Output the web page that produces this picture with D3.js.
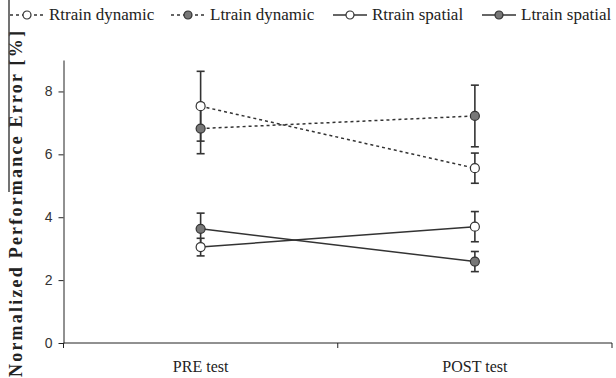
<!DOCTYPE html>
<meta charset="utf-8">
<style>
body { margin: 0; background: #fff; }
svg text { fill: #222; }
.tick text { font-family: "Liberation Sans", Arial, sans-serif; font-size: 14px; fill: #333; }
</style>
<svg width="616" height="378"></svg>
<script src="https://cdnjs.cloudflare.com/ajax/libs/d3/7.8.5/d3.min.js"></script>
<script>

var categories = ["PRE test", "POST test"];
var seriesNames = ["Rtrain dynamic", "Ltrain dynamic", "Rtrain spatial", "Ltrain spatial"];
var rtrainDynamic = [7.53, 5.56], rtrainDynamicErr = [1.11, 0.48];
var ltrainDynamic = [6.82, 7.22], ltrainDynamicErr = [0.80, 0.98];
var rtrainSpatial = [3.05, 3.70], rtrainSpatialErr = [0.28, 0.48];
var ltrainSpatial = [3.63, 2.59], ltrainSpatialErr = [0.50, 0.32];
var yTicks = [0, 2, 4, 6, 8];

var series = [
  {name: seriesNames[0], values: rtrainDynamic, err: rtrainDynamicErr, dash: "3,3", fill: "#fff"},
  {name: seriesNames[1], values: ltrainDynamic, err: ltrainDynamicErr, dash: "3,3", fill: "#777"},
  {name: seriesNames[2], values: rtrainSpatial, err: rtrainSpatialErr, dash: null, fill: "#fff"},
  {name: seriesNames[3], values: ltrainSpatial, err: ltrainSpatialErr, dash: null, fill: "#777"}
];

var serif = "'Liberation Serif', 'Times New Roman', serif";

var svg = d3.select("svg"),
    margin = {top: 60, right: 4, bottom: 35, left: 63.5},
    width = +svg.attr("width") - margin.left - margin.right,
    height = +svg.attr("height") - margin.top - margin.bottom;

var g = svg.append("g")
    .attr("transform", "translate(" + margin.left + "," + margin.top + ")");

var x = d3.scaleBand().domain(categories).range([0, width]);
var y = d3.scaleLinear().domain([0, 9]).range([height, 0]);

function cx(i) { return x(categories[i]) + x.bandwidth() / 2; }

// x axis, ticks sit on the band edges
var xAxis = g.append("g")
    .attr("transform", "translate(0," + height + ")");
xAxis.append("line")
    .attr("x1", 0).attr("x2", width)
    .attr("stroke", "#222");
xAxis.selectAll(".edge")
    .data(categories.concat(["end"]))
  .enter().append("line")
    .attr("x1", function(d, i) { return i * x.bandwidth(); })
    .attr("x2", function(d, i) { return i * x.bandwidth(); })
    .attr("y1", 0).attr("y2", 5)
    .attr("stroke", "#222");
xAxis.selectAll(".lab")
    .data(categories)
  .enter().append("text")
    .attr("x", function(d, i) { return cx(i); })
    .attr("y", 29)
    .attr("text-anchor", "middle")
    .style("font-family", serif)
    .style("font-size", "16px")
    .text(function(d) { return d; });

// y axis
var yAxis = g.append("g")
    .call(d3.axisLeft(y).tickValues(yTicks).tickSize(5).tickPadding(6).tickSizeOuter(0));
yAxis.select(".domain").attr("stroke", "#222");
yAxis.selectAll(".tick line").attr("stroke", "#222");

svg.append("text")
    .attr("transform", "translate(22,204) rotate(-90)")
    .attr("text-anchor", "middle")
    .attr("textLength", 346)
    .attr("lengthAdjust", "spacing")
    .style("font-family", serif)
    .style("font-weight", "bold")
    .style("font-size", "18px")
    .text("Normalized Performance Error [%]");

svg.append("line")
    .attr("x1", 9).attr("x2", 9)
    .attr("y1", 0).attr("y2", 192)
    .attr("stroke", "#444")
    .attr("stroke-width", 1.5);

// error bars
series.forEach(function(s) {
  var eb = g.append("g").attr("stroke", "#333").attr("stroke-width", 1.6);
  s.values.forEach(function(v, i) {
    eb.append("line")
        .attr("x1", cx(i)).attr("x2", cx(i))
        .attr("y1", y(v - s.err[i])).attr("y2", y(v + s.err[i]));
    [v - s.err[i], v + s.err[i]].forEach(function(e) {
      eb.append("line")
          .attr("x1", cx(i) - 4).attr("x2", cx(i) + 4)
          .attr("y1", y(e)).attr("y2", y(e));
    });
  });
});

var line = d3.line()
    .x(function(d, i) { return cx(i); })
    .y(function(d) { return y(d); });

series.forEach(function(s) {
  g.append("path")
      .datum(s.values)
      .attr("fill", "none")
      .attr("stroke", "#333")
      .attr("stroke-width", 1.5)
      .attr("stroke-dasharray", s.dash)
      .attr("d", line);
});

series.forEach(function(s) {
  g.selectAll(null)
      .data(s.values)
    .enter().append("circle")
      .attr("cx", function(d, i) { return cx(i); })
      .attr("cy", function(d) { return y(d); })
      .attr("r", 4.5)
      .attr("fill", s.fill)
      .attr("stroke", "#333")
      .attr("stroke-width", 1.2);
});

// legend
var legendX = [10, 171, 333, 482];
var legend = svg.selectAll(".legend")
    .data(series)
  .enter().append("g")
    .attr("transform", function(d, i) { return "translate(" + legendX[i] + ",15)"; });
legend.append("line")
    .attr("x1", 0).attr("x2", 34)
    .attr("stroke", "#333")
    .attr("stroke-width", 1.5)
    .attr("stroke-dasharray", function(d) { return d.dash; });
legend.append("circle")
    .attr("cx", 17).attr("r", 4)
    .attr("fill", function(d) { return d.fill; })
    .attr("stroke", "#333")
    .attr("stroke-width", 1.2);
legend.append("text")
    .attr("x", 39)
    .attr("y", 5)
    .style("font-family", serif)
    .style("font-size", "17px")
    .text(function(d) { return d.name; });

</script>
